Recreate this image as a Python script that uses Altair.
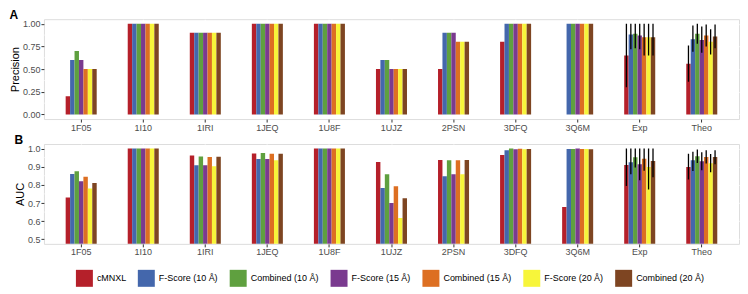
import altair as alt
import pandas as pd

proteins = ["1F05", "1I10", "1IRI", "1JEQ", "1U8F", "1UJZ", "2PSN", "3DFQ", "3Q6M", "Exp", "Theo"]
methods = ["cMNXL", "F-Score (10 Å)", "Combined (10 Å)", "F-Score (15 Å)",
           "Combined (15 Å)", "F-Score (20 Å)", "Combined (20 Å)"]
colors = ["#B5202A", "#4467AC", "#5FA03F", "#7A3A8F", "#DD6F22", "#F7F53A", "#7E4522"]

# Precision per method, in protein order
precision = {
    "cMNXL":           [0.20, 1.00, 0.90, 1.00, 1.00, 0.50, 0.50, 0.80, 0.00, 0.65, 0.56],
    "F-Score (10 Å)":  [0.60, 1.00, 0.90, 1.00, 1.00, 0.60, 0.90, 1.00, 1.00, 0.88, 0.83],
    "Combined (10 Å)": [0.70, 1.00, 0.90, 1.00, 1.00, 0.60, 0.90, 1.00, 1.00, 0.89, 0.89],
    "F-Score (15 Å)":  [0.60, 1.00, 0.90, 1.00, 1.00, 0.50, 0.90, 1.00, 1.00, 0.87, 0.82],
    "Combined (15 Å)": [0.50, 1.00, 0.90, 1.00, 1.00, 0.50, 0.80, 1.00, 1.00, 0.85, 0.87],
    "F-Score (20 Å)":  [0.50, 1.00, 0.90, 1.00, 1.00, 0.50, 0.80, 1.00, 1.00, 0.85, 0.80],
    "Combined (20 Å)": [0.50, 1.00, 0.90, 1.00, 1.00, 0.50, 0.80, 1.00, 1.00, 0.85, 0.86],
}
# error bar limits (Exp, Theo) per method
prec_exp_lo = [0.30, 0.72, 0.73, 0.72, 0.65, 0.65, 0.65]
prec_exp_hi = [1.00, 1.00, 1.00, 1.00, 1.00, 1.00, 1.00]
prec_theo_lo = [0.36, 0.69, 0.78, 0.68, 0.75, 0.66, 0.73]
prec_theo_hi = [0.76, 0.98, 1.00, 0.97, 0.99, 0.94, 0.99]

auc = {
    "cMNXL":           [0.730, 1.0, 0.962, 0.973, 1.0, 0.926, 0.937, 0.965, 0.678, 0.909, 0.899],
    "F-Score (10 Å)":  [0.860, 1.0, 0.908, 0.942, 1.0, 0.783, 0.848, 0.990, 0.997, 0.925, 0.935],
    "Combined (10 Å)": [0.875, 1.0, 0.956, 0.975, 1.0, 0.859, 0.935, 1.000, 0.997, 0.952, 0.958],
    "F-Score (15 Å)":  [0.820, 1.0, 0.908, 0.942, 1.0, 0.700, 0.859, 0.996, 1.000, 0.914, 0.930],
    "Combined (15 Å)": [0.845, 1.0, 0.953, 0.971, 1.0, 0.793, 0.936, 0.999, 0.997, 0.944, 0.953],
    "F-Score (20 Å)":  [0.780, 1.0, 0.902, 0.936, 1.0, 0.617, 0.859, 0.996, 0.997, 0.898, 0.919],
    "Combined (20 Å)": [0.810, 1.0, 0.955, 0.971, 1.0, 0.726, 0.937, 0.998, 0.996, 0.931, 0.954],
}
auc_exp_lo = [0.794, 0.858, 0.896, 0.826, 0.878, 0.774, 0.842]
auc_exp_hi = [1.00, 1.00, 1.00, 1.00, 1.00, 1.00, 1.00]
auc_theo_lo = [0.829, 0.876, 0.920, 0.881, 0.917, 0.869, 0.913]
auc_theo_hi = [0.972, 0.982, 0.995, 0.979, 0.991, 0.970, 0.990]

prec_major = [0, 0.25, 0.5, 0.75, 1.0]
prec_minor = [0.125, 0.375, 0.625, 0.875]
auc_major = [0.5, 0.6, 0.7, 0.8, 0.9, 1.0]
auc_minor = [0.55, 0.65, 0.75, 0.85, 0.95]

FONT = "Liberation Sans"


def build(values, exp_lo, exp_hi, theo_lo, theo_hi):
    rows = []
    for mi, m in enumerate(methods):
        for pi, p in enumerate(proteins):
            lo = hi = None
            if p == "Exp":
                lo, hi = exp_lo[mi], exp_hi[mi]
            elif p == "Theo":
                lo, hi = theo_lo[mi], theo_hi[mi]
            rows.append({"protein": p, "method": m, "value": values[m][pi], "lo": lo, "hi": hi})
    return pd.DataFrame(rows)


def panel(df, letter, ytitle, domain, major, minor, fmt, height):
    xscale = alt.Scale(paddingInner=0.5, paddingOuter=0.35)
    xaxis = alt.Axis(title=None, labelAngle=0, bandPosition=0.5, labelFontSize=9,
                     labelColor="#4D4D4D", tickColor="#333333", tickSize=3,
                     labelPadding=1, domain=False, grid=True, gridColor="white",
                     gridWidth=1.1)
    xo = alt.XOffset("method:N", sort=methods, scale=alt.Scale(paddingInner=0, paddingOuter=0))
    yscale = alt.Scale(domain=domain, zero=False, nice=False)
    yaxis = alt.Axis(title=ytitle, values=major, format=fmt, grid=True, gridColor="white",
                     gridWidth=1.1, labelOverlap=False,
                     labelFontSize=9, labelColor="#4D4D4D", tickColor="#333333", tickSize=3,
                     labelPadding=1, domain=False, titleFontSize=11, titleFontWeight="normal",
                     titleColor="black", titlePadding=2)
    minor_rules = alt.Chart(pd.DataFrame({"v": minor})).mark_rule(
        color="white", strokeWidth=0.55).encode(
        y=alt.Y("v:Q", scale=yscale, axis=yaxis))
    base = alt.Chart(df)
    bars = base.mark_bar(clip=True).encode(
        x=alt.X("protein:N", sort=proteins, scale=xscale, axis=xaxis),
        xOffset=xo,
        y=alt.Y("value:Q", scale=yscale, axis=yaxis), y2=alt.datum(0),
        color=alt.Color("method:N", sort=methods,
                        scale=alt.Scale(domain=methods, range=colors),
                        legend=alt.Legend(title=None, orient="none", direction="horizontal",
                                          legendX=32, legendY=251, symbolType="square",
                                          symbolSize=289, symbolStrokeWidth=0,
                                          labelFontSize=9, labelColor="black",
                                          labelOffset=4, columnPadding=11,
                                          gridAlign="none", labelFont=FONT)))
    errs = base.transform_filter("isValid(datum.lo)").mark_rule(
        color="black", strokeWidth=1.3, clip=True).encode(
        x=alt.X("protein:N", sort=proteins, scale=xscale, axis=xaxis, bandPosition=0),
        xOffset=alt.XOffset("method:N", sort=methods,
                            scale=alt.Scale(paddingInner=0, paddingOuter=0), bandPosition=0.5),
        y=alt.Y("lo:Q", scale=yscale, axis=yaxis), y2="hi:Q")
    return alt.layer(minor_rules, bars, errs).properties(
        width=696, height=height,
        title=alt.TitleParams(letter, anchor="start", frame="bounds", fontSize=12,
                              fontWeight="bold", offset=-3, font=FONT, color="black"))


prec_df = build(precision, prec_exp_lo, prec_exp_hi, prec_theo_lo, prec_theo_hi)
auc_df = build(auc, auc_exp_lo, auc_exp_hi, auc_theo_lo, auc_theo_hi)

pA = panel(prec_df, "A", "Precision", [-0.05, 1.05], prec_major, prec_minor, ".2f", 100)
pB = panel(auc_df, "B", "AUC", [0.475, 1.025], auc_major, auc_minor, ".1f", 100)

chart = alt.vconcat(pA, pB, spacing=0).properties(
    padding={"left": 0, "top": 0, "right": 0, "bottom": 0}
).configure_view(fill="#EBEBEB", strokeWidth=0).configure(
    font=FONT
).configure_axis(labelFont=FONT, titleFont=FONT)

chart.save("out.html", embed_options={"renderer": "svg", "actions": False})
